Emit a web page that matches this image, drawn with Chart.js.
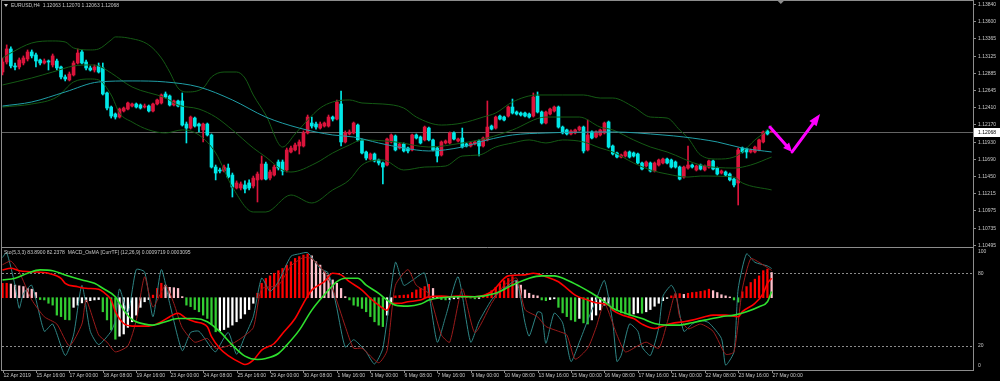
<!DOCTYPE html>
<html>
<head>
<meta charset="utf-8">
<title>EURUSD,H4</title>
<script src="https://cdn.jsdelivr.net/npm/chart.js@4.4.1/dist/chart.umd.min.js"></script>
<style>
  html, body { margin: 0; padding: 0; background: #000; overflow: hidden; }
  canvas { display: block; }
</style>
</head>
<body>
<canvas id="mt4" width="1000" height="381"></canvas>
<script>
// Candles, EURUSD H4, bar 0 = 12 Apr 2019 08:00 ... bar 184 = 27 May 2019 00:00

const opens = [
  1.12896,1.13035,1.13216,1.12980,1.12966,1.13021,1.13077,1.13174,1.13133,1.13063,
  1.13021,1.13049,1.12994,1.13049,1.12966,1.12827,1.12786,1.12855,1.13021,1.13174,
  1.13035,1.12952,1.12924,1.12980,1.12952,1.12605,1.12410,1.12313,1.12271,1.12355,
  1.12382,1.12424,1.12452,1.12438,1.12410,1.12424,1.12355,1.12452,1.12466,1.12591,
  1.12563,1.12438,1.12494,1.12494,1.12174,1.12118,1.12257,1.12174,1.12092,1.12174,
  1.12022,1.11577,1.11536,1.11522,1.11563,1.11466,1.11286,1.11286,1.11328,1.11356,
  1.11314,1.11398,1.11410,1.11619,1.11424,1.11466,1.11647,1.11647,1.11536,1.11786,
  1.11814,1.11869,1.11869,1.12050,1.12188,1.12174,1.12118,1.12146,1.12146,1.12271,
  1.12243,1.12452,1.11925,1.12036,1.12050,1.12160,1.11953,1.11786,1.11688,1.11758,
  1.11675,1.11633,1.11605,1.11925,1.12008,1.11841,1.11897,1.11841,1.11814,1.12022,
  1.11994,1.11953,1.12118,1.11953,1.11841,1.11744,1.11911,1.11911,1.12050,1.11939,
  1.11980,1.11897,1.11869,1.11897,1.11939,1.11869,1.11953,1.12146,1.12118,1.12285,
  1.12271,1.12285,1.12410,1.12341,1.12327,1.12327,1.12313,1.12285,1.12563,1.12341,
  1.12188,1.12313,1.12355,1.12410,1.12132,1.12092,1.12036,1.12050,1.12092,1.12132,
  1.11814,1.12064,1.11994,1.12022,1.12050,1.12202,1.11869,1.11772,1.11716,1.11730,
  1.11786,1.11772,1.11758,1.11633,1.11591,1.11633,1.11522,1.11605,1.11633,1.11688,
  1.11675,1.11647,1.11577,1.11438,1.11563,1.11605,1.11536,1.11605,1.11536,1.11577,
  1.11661,1.11563,1.11494,1.11508,1.11480,1.11410,1.11356,1.11841,1.11827,1.11786,
  1.11786,1.11814,1.11925,1.12078,1.12063
];
const highs = [
  1.13091,1.13272,1.13244,1.13021,1.13091,1.13119,1.13202,1.13202,1.13160,1.13077,
  1.13077,1.13063,1.13146,1.13077,1.12980,1.12855,1.12896,1.13049,1.13216,1.13202,
  1.13063,1.12980,1.12994,1.13021,1.13021,1.12619,1.12424,1.12327,1.12396,1.12410,
  1.12480,1.12466,1.12466,1.12452,1.12452,1.12438,1.12466,1.12521,1.12591,1.12619,
  1.12577,1.12508,1.12508,1.12605,1.12202,1.12285,1.12271,1.12188,1.12188,1.12188,
  1.12036,1.11605,1.11563,1.11605,1.11619,1.11494,1.11384,1.11370,1.11384,1.11398,
  1.11452,1.11508,1.11730,1.11647,1.11536,1.11605,1.11675,1.11675,1.11841,1.11869,
  1.11911,1.11953,1.12078,1.12299,1.12271,1.12202,1.12202,1.12202,1.12299,1.12285,
  1.12508,1.12633,1.12078,1.12092,1.12202,1.12174,1.11966,1.11800,1.11772,1.11772,
  1.11688,1.11647,1.11980,1.12036,1.12022,1.11911,1.11911,1.11855,1.12036,1.12036,
  1.12008,1.12146,1.12132,1.11966,1.11855,1.11939,1.11953,1.12064,1.12064,1.11980,
  1.12118,1.11911,1.11925,1.11939,1.11953,1.11994,1.12494,1.12160,1.12285,1.12299,
  1.12285,1.12424,1.12521,1.12355,1.12341,1.12341,1.12327,1.12605,1.12619,1.12355,
  1.12355,1.12396,1.12424,1.12424,1.12146,1.12104,1.12092,1.12104,1.12146,1.12146,
  1.12230,1.12078,1.12078,1.12104,1.12202,1.12216,1.11883,1.11786,1.11758,1.11800,
  1.11800,1.11786,1.11772,1.11647,1.11661,1.11647,1.11647,1.11688,1.11702,1.11702,
  1.11688,1.11661,1.11591,1.11591,1.11869,1.11619,1.11605,1.11619,1.11605,1.11675,
  1.11675,1.11577,1.11536,1.11522,1.11494,1.11424,1.11841,1.11855,1.11841,1.11827,
  1.11869,1.11966,1.12078,1.12092,1.12070
];
const lows = [
  1.12855,1.13007,1.12952,1.12924,1.12938,1.12994,1.13049,1.13091,1.12966,1.12994,
  1.13007,1.12924,1.12966,1.12924,1.12799,1.12772,1.12772,1.12841,1.13007,1.13007,
  1.12924,1.12910,1.12896,1.12882,1.12577,1.12369,1.12257,1.12243,1.12257,1.12341,
  1.12369,1.12410,1.12396,1.12382,1.12396,1.12341,1.12341,1.12438,1.12452,1.12535,
  1.12424,1.12424,1.12410,1.12146,1.11911,1.12104,1.12132,1.12064,1.11925,1.12008,
  1.11563,1.11398,1.11494,1.11508,1.11424,1.11161,1.11272,1.11259,1.11217,1.11259,
  1.11286,1.11092,1.11398,1.11398,1.11398,1.11452,1.11536,1.11466,1.11508,1.11772,
  1.11800,1.11758,1.11855,1.12036,1.12118,1.12104,1.12104,1.12132,1.12132,1.12216,
  1.12230,1.11869,1.11911,1.12022,1.12036,1.11939,1.11758,1.11675,1.11675,1.11647,
  1.11605,1.11342,1.11591,1.11911,1.11800,1.11827,1.11786,1.11772,1.11800,1.11966,
  1.11897,1.11939,1.11939,1.11800,1.11647,1.11730,1.11897,1.11897,1.11953,1.11925,
  1.11841,1.11855,1.11855,1.11883,1.11730,1.11855,1.11939,1.12092,1.12104,1.12230,
  1.12216,1.12271,1.12313,1.12299,1.12285,1.12271,1.12257,1.12271,1.12327,1.12174,
  1.12174,1.12299,1.12341,1.12118,1.12036,1.12022,1.12022,1.12036,1.12078,1.11772,
  1.11800,1.11966,1.11980,1.12008,1.12036,1.11841,1.11744,1.11702,1.11702,1.11716,
  1.11702,1.11716,1.11619,1.11536,1.11577,1.11508,1.11508,1.11591,1.11619,1.11619,
  1.11563,1.11563,1.11398,1.11424,1.11549,1.11563,1.11522,1.11536,1.11522,1.11563,
  1.11536,1.11466,1.11480,1.11452,1.11384,1.11300,1.11050,1.11772,1.11702,1.11772,
  1.11772,1.11800,1.11911,1.12022,1.12063
];
const closes = [
  1.13035,1.13216,1.12980,1.12966,1.13063,1.13091,1.13174,1.13119,1.13049,1.13021,
  1.13049,1.13035,1.13119,1.12952,1.12827,1.12799,1.12868,1.13021,1.13160,1.13021,
  1.12952,1.12924,1.12966,1.12896,1.12591,1.12396,1.12285,1.12271,1.12382,1.12396,
  1.12466,1.12452,1.12410,1.12396,1.12424,1.12355,1.12452,1.12508,1.12577,1.12549,
  1.12438,1.12494,1.12424,1.12160,1.12118,1.12271,1.12146,1.12146,1.12174,1.12022,
  1.11577,1.11494,1.11522,1.11577,1.11438,1.11300,1.11356,1.11342,1.11272,1.11286,
  1.11424,1.11480,1.11619,1.11410,1.11508,1.11577,1.11563,1.11522,1.11814,1.11841,
  1.11883,1.11925,1.12050,1.12271,1.12146,1.12132,1.12174,1.12188,1.12271,1.12243,
  1.12480,1.11925,1.12050,1.12064,1.12188,1.11953,1.11772,1.11702,1.11758,1.11661,
  1.11633,1.11577,1.11966,1.12022,1.11814,1.11897,1.11800,1.11800,1.12022,1.11980,
  1.11911,1.12132,1.11953,1.11814,1.11730,1.11925,1.11939,1.12050,1.11966,1.11966,
  1.11855,1.11869,1.11911,1.11925,1.11869,1.11980,1.12132,1.12104,1.12271,1.12243,
  1.12230,1.12410,1.12327,1.12313,1.12299,1.12285,1.12271,1.12549,1.12341,1.12188,
  1.12341,1.12382,1.12410,1.12132,1.12050,1.12036,1.12078,1.12092,1.12132,1.11800,
  1.12022,1.11980,1.12064,1.12092,1.12188,1.11855,1.11758,1.11716,1.11744,1.11786,
  1.11716,1.11730,1.11633,1.11549,1.11647,1.11522,1.11633,1.11675,1.11688,1.11633,
  1.11577,1.11577,1.11410,1.11577,1.11605,1.11577,1.11591,1.11549,1.11591,1.11661,
  1.11549,1.11480,1.11522,1.11466,1.11398,1.11328,1.11814,1.11786,1.11786,1.11814,
  1.11855,1.11953,1.12064,1.12036,1.12068
];

// Bollinger bands (20,2) and the slow MA at these bars
const upperBars = [0,2,7,12,15,17,21,23,26,27,30,35,38,40,42,44,48,50,53,56,58,60,63,67,70,73,76,79,83,86,91,96,99,105,110,115,118,122,128,134,139,143,146,151,155,159,162,164,167,171,175,177,180,183,184];
const bbUpper = [1.13091,1.13160,1.13299,1.13327,1.13313,1.13230,1.13202,1.13216,1.13341,1.13383,1.13369,1.13272,1.13091,1.12896,1.12674,1.12619,1.12674,1.12827,1.12896,1.12896,1.12813,1.12577,1.12299,1.11855,1.12036,1.12230,1.12396,1.12480,1.12508,1.12466,1.12452,1.12396,1.12271,1.12160,1.12188,1.12271,1.12327,1.12480,1.12577,1.12577,1.12577,1.12535,1.12535,1.12410,1.12271,1.12257,1.12092,1.11980,1.11744,1.11688,1.11716,1.11786,1.11953,1.12092,1.12160];
const middleBars = [0,7,12,17,21,23,26,31,39,42,47,51,55,60,63,67,69,75,79,83,86,94,102,110,116,122,130,138,143,146,151,155,159,167,175,179,184];
const bbMiddle = [1.12716,1.12813,1.12896,1.12980,1.12994,1.12980,1.12882,1.12688,1.12535,1.12438,1.12382,1.12271,1.12092,1.11841,1.11716,1.11536,1.11508,1.11633,1.11772,1.11883,1.11953,1.11925,1.11855,1.11911,1.11980,1.12092,1.12271,1.12271,1.12132,1.12092,1.11953,1.11855,1.11786,1.11605,1.11563,1.11605,1.11716];
const lowerBars = [0,7,13,17,21,23,26,28,31,35,39,43,47,51,55,60,63,69,74,79,83,86,91,96,101,106,110,114,118,122,126,130,134,139,143,146,151,155,159,164,167,175,177,184];
const bbLower = [1.12410,1.12452,1.12549,1.12758,1.12799,1.12786,1.12577,1.12327,1.12202,1.12092,1.12050,1.12092,1.12022,1.11772,1.11300,1.10953,1.10953,1.11189,1.11078,1.11259,1.11398,1.11605,1.11675,1.11536,1.11577,1.11591,1.11730,1.11744,1.11855,1.11911,1.11953,1.11911,1.11953,1.11925,1.11841,1.11786,1.11633,1.11536,1.11480,1.11438,1.11452,1.11438,1.11356,1.11259];
const maBars = [0,7,15,23,31,39,47,55,63,71,79,84,90,96,102,110,116,122,130,146,158,163,171,177,184];
const maValues = [1.12424,1.12480,1.12619,1.12758,1.12772,1.12758,1.12688,1.12508,1.12271,1.12118,1.12022,1.11994,1.11911,1.11841,1.11800,1.11855,1.11953,1.12022,1.12050,1.12064,1.12022,1.11994,1.11925,1.11841,1.11786];

// Stochastic (5,3,3)
const stochBars = [0,1,3,4,5,7,10,12,15,17,19,21,23,26,27,28,30,32,34,36,38,40,43,45,47,50,51,54,56,58,60,62,64,66,69,71,73,76,78,80,82,84,86,87,89,91,94,96,98,101,104,106,109,112,114,117,119,121,123,125,126,128,129,130,132,134,136,138,140,142,144,146,147,148,150,152,153,155,157,158,160,161,163,165,167,169,172,173,175,176,178,180,183,184];
const stochMain = [93,97,70,51,63,70,32,38,12,29,70,32,21,32,41,67,47,83,81,44,83,55,16,31,32,18,15,31,13,28,44,76,65,73,94,96,97,84,80,51,19,25,19,15,5,18,89,70,74,80,23,44,77,23,40,58,65,70,74,39,28,48,47,22,47,39,7,23,41,58,74,39,7,12,38,32,19,12,35,61,70,64,32,38,41,39,26,4,15,67,96,89,86,83.89];
const signalBars = [0,2,4,7,10,13,16,19,20,23,25,27,30,32,34,36,39,41,43,46,49,51,54,57,60,62,66,69,72,74,77,79,82,84,86,90,92,94,97,99,102,105,107,110,113,117,120,123,125,128,130,133,135,137,140,142,144,147,149,152,154,157,159,161,162,164,167,170,173,175,177,179,181,184];
const stochSignal = [87,90,81,58,44,38,20,38,58,29,23,15,20,41,77,52,70,55,35,23,26,18,20,26,35,67,70,86,93,92,81,67,36,18,18,6,16,70,83,70,63,29,23,67,31,55,70,76,50,44,36,32,29,9,18,35,55,29,15,20,23,18,39,64,44,34,38,32,13,15,67,92,89,82.24];

// MACD_OsMA (12,26,9), values in 1e-5
const macdBars = [0,2,4,7,11,14,15,18,20,23,24,26,27,29,31,33,35,38,40,42,44,46,49,50,52,54,57,58,60,62,65,67,70,72,74,77,79,81,83,86,88,90,92,93,95,97,100,102,105,107,109,113,117,121,125,127,130,133,135,137,140,142,145,146,149,151,153,156,158,160,163,165,168,170,173,176,177,180,182,183,184];
const macdLine = [139,147,135,130,122,97,72,55,47,42,30,-12,-70,-129,-142,-142,-142,-120,-95,-78,-104,-120,-145,-195,-254,-290,-326,-334,-312,-262,-229,-179,-104,-28,38,80,122,114,80,38,-3,-37,-62,-28,-28,-20,-12,5,8,5,8,5,30,109,114,122,105,80,47,13,-12,-25,-37,-62,-92,-104,-132,-154,-142,-129,-120,-112,-95,-87,-87,-95,-70,-28,22,72,97];
const sigBars = [0,3,6,9,12,15,19,22,24,27,29,31,34,36,39,42,46,49,52,55,58,61,63,66,68,71,74,78,80,82,85,87,90,92,94,97,100,102,105,109,113,118,122,126,129,132,135,138,141,144,146,149,153,156,159,162,165,168,172,175,178,181,183,184];
const sigLine = [89,97,122,139,135,114,89,72,47,5,-62,-109,-132,-137,-120,-104,-104,-120,-170,-237,-292,-309,-304,-279,-237,-162,-62,38,80,97,97,63,22,-12,-37,-42,-32,-12,0,5,5,22,63,97,109,109,89,58,22,-20,-53,-78,-104,-129,-137,-137,-125,-112,-95,-87,-70,-45,-20,31];
const osma = [
  39,39,37,34,32,30,25,23,14,-5,
  -6,-15,-20,-47,-51,-59,-60,-26,-20,-14,
  -11,-8,-6,-5,-38,-60,-87,-112,-104,-98,
  -80,-65,-47,-26,-11,-5,7,25,39,34,
  28,27,25,3,-20,-24,-32,-38,-47,-56,
  -72,-92,-89,-86,-80,-74,-65,-56,-44,-32,
  -15,12,39,52,59,66,73,79,88,97,
  106,111,115,118,113,97,88,70,61,48,
  39,25,3,-6,-20,-23,-29,-38,-51,-65,
  -74,-78,-47,-15,5,6,7,8,14,21,
  25,30,36,25,3,-5,-6,-5,-3,-2,
  1,2,-1,-3,-2,5,10,19,28,37,
  46,52,57,46,34,21,12,7,5,-6,
  -8,-5,-3,-26,-41,-51,-60,-64,-56,-68,
  -71,-60,-47,-33,-20,-15,-26,-35,-41,-44,
  -47,-44,-41,-42,-38,-32,-23,-15,-8,-2,
  5,8,11,9,12,14,15,17,19,23,
  19,14,8,5,2,-6,-12,16,30,41,
  50,59,73,77,68
];

// axes and texts
const priceTicks = [1.13840,1.13600,1.13365,1.13125,1.12885,1.12645,1.12410,1.12170,1.11930,1.11690,1.11450,1.11215,1.10975,1.10735,1.10495];
const lastPrice = 1.12068;
const stochLevels = [80, 20];
const stochLabels = [100, 80, 20, 0];
const labelBars = [0,8,16,24,32,40,48,56,64,72,80,88,96,104,112,120,128,136,144,152,160,168,176,184];
const timeLabels = ['12 Apr 2019','15 Apr 16:00','17 Apr 00:00','18 Apr 08:00','19 Apr 16:00','23 Apr 00:00','24 Apr 08:00','25 Apr 16:00','29 Apr 00:00','30 Apr 08:00','1 May 16:00','3 May 00:00','6 May 08:00','7 May 16:00','9 May 00:00','10 May 08:00','13 May 16:00','15 May 00:00','16 May 08:00','17 May 16:00','21 May 00:00','22 May 08:00','23 May 16:00','27 May 00:00'];
const mainTitle = 'EURUSD,H4  1.12063 1.12070 1.12063 1.12068';
const indTitle = 'Sto(5,3,3) 83.8900 82.2378  MACD_OsMA [CurrTF] (12,26,9) 0.0009719 0.0003095';

// hand drawn magenta arrows (bar, price)
const arrowBars = [183.6, 188.9, 195.6];
const arrowPrices = [1.12132, 1.11786, 1.12313];
const shiftBar = 186.2;

const UP = '#dc143c', DOWN = '#00e8e8';
const FG = '#c8c8c8', FRAME = '#8c8c8c';
const FONT = '5px "Liberation Sans", Arial, sans-serif';

const idx = opens.map((_, i) => i);
const candleColors = idx.map(i => closes[i] >= opens[i] ? UP : DOWN);
const histColors = osma.map((v, i) => {
  const prev = i ? osma[i - 1] : v;
  if (v >= 0) return v >= prev ? '#ff0000' : '#ffc0cb';
  return v <= prev ? '#32cd32' : '#ffffff';
});

function pts(xs, ys) { return xs.map((x, i) => ({ x: x, y: ys[i] })); }

function hline(ctx, x1, x2, y) { ctx.beginPath(); ctx.moveTo(x1, y); ctx.lineTo(x2, y); ctx.stroke(); }
function vline(ctx, x, y1, y2) { ctx.beginPath(); ctx.moveTo(x, y1); ctx.lineTo(x, y2); ctx.stroke(); }

function arrowTo(ctx, x1, y1, x2, y2, len, half) {
  const a = Math.atan2(y2 - y1, x2 - x1);
  const bx = x2 - len * Math.cos(a), by = y2 - len * Math.sin(a);
  ctx.beginPath(); ctx.moveTo(x1, y1); ctx.lineTo(bx, by); ctx.stroke();
  ctx.beginPath();
  ctx.moveTo(x2, y2);
  ctx.lineTo(bx + half * Math.sin(a), by - half * Math.cos(a));
  ctx.lineTo(bx - half * Math.sin(a), by + half * Math.cos(a));
  ctx.closePath();
  ctx.fill();
}

const mt4Look = {
  id: 'mt4Look',
  beforeDraw(chart) {
    const ctx = chart.ctx;
    ctx.save();
    ctx.fillStyle = '#000';
    ctx.fillRect(0, 0, chart.width, chart.height);
    ctx.restore();
  },
  beforeDatasetsDraw(chart) {
    const { ctx, chartArea: a, scales } = chart;
    ctx.save();
    ctx.lineWidth = 1;
    ctx.strokeStyle = '#646464';
    hline(ctx, a.left, a.right, Math.round(scales.yp.getPixelForValue(lastPrice)) + 0.5);
    ctx.setLineDash([2, 2]);
    ctx.strokeStyle = '#8a8a8a';
    stochLevels.forEach(v => hline(ctx, a.left, a.right, Math.round(scales.ys.getPixelForValue(v)) + 0.5));
    ctx.restore();
  },
  afterDraw(chart) {
    const { ctx, chartArea: a, scales } = chart;
    ctx.save();

    // frame and pane split
    ctx.strokeStyle = FRAME;
    ctx.lineWidth = 1;
    ctx.strokeRect(1.5, 0.5, a.right - 1, a.bottom);
    hline(ctx, 1.5, a.right + 0.5, 247.5);

    ctx.font = FONT;
    ctx.textAlign = 'left';
    ctx.textBaseline = 'middle';
    ctx.fillStyle = FG;

    // price axis
    priceTicks.forEach(p => {
      const y = Math.round(scales.yp.getPixelForValue(p)) + 0.5;
      hline(ctx, a.right, a.right + 3, y);
      ctx.fillText(p.toFixed(5), a.right + 5, y);
    });
    const by = Math.round(scales.yp.getPixelForValue(lastPrice));
    ctx.fillStyle = '#ffffff';
    ctx.fillRect(a.right + 1, by - 4, 27, 9);
    ctx.fillStyle = '#000';
    ctx.fillText(lastPrice.toFixed(5), a.right + 5, by + 0.5);

    // stochastic axis
    ctx.fillStyle = FG;
    stochLabels.forEach(v => {
      let y = scales.ys.getPixelForValue(v);
      if (v === 100) y += 3;
      if (v === 0) y -= 4;
      ctx.fillText(String(v), a.right + 5, y);
    });

    // time axis
    labelBars.forEach((b, k) => {
      const x = Math.round(scales.x.getPixelForValue(b)) + 0.5;
      vline(ctx, x, a.bottom, a.bottom + 3);
      ctx.fillText(timeLabels[k], x, a.bottom + 6);
    });

    // titles
    ctx.beginPath(); ctx.moveTo(4, 4); ctx.lineTo(8, 4); ctx.lineTo(6, 7); ctx.closePath(); ctx.fill();
    ctx.fillText(mainTitle, 11, 6);
    ctx.fillText(indTitle, 4, 253);

    // chart shift marker
    const sx = scales.x.getPixelForValue(shiftBar);
    ctx.fillStyle = FRAME;
    ctx.beginPath(); ctx.moveTo(sx - 3, 1); ctx.lineTo(sx + 3, 1); ctx.lineTo(sx, 4); ctx.closePath(); ctx.fill();

    // arrows
    const px = arrowBars.map(b => scales.x.getPixelForValue(b));
    const py = arrowPrices.map(p => scales.yp.getPixelForValue(p));
    ctx.strokeStyle = '#ff00ff';
    ctx.fillStyle = '#ff00ff';
    ctx.lineWidth = 3;
    ctx.lineCap = 'round';
    arrowTo(ctx, px[0], py[0], px[1], py[1], 9, 4);
    arrowTo(ctx, px[1], py[1], px[2], py[2], 12, 4.5);

    ctx.restore();
  }
};

function bandLine(data, color, order) {
  return { type: 'line', data: data, yAxisID: 'yp', borderColor: color, borderWidth: 1,
           pointRadius: 0, fill: false, cubicInterpolationMode: 'monotone', order: order };
}

new Chart(document.getElementById('mt4'), {
  type: 'bar',
  data: {
    datasets: [
      { label: 'wick', data: idx.map(i => ({ x: i, y: [lows[i], highs[i]] })), yAxisID: 'yp',
        backgroundColor: candleColors, barThickness: 1, grouped: false, order: 5 },
      { label: 'body', data: idx.map(i => ({ x: i, y: [opens[i], closes[i]] })), yAxisID: 'yp',
        backgroundColor: candleColors, barThickness: 3, minBarLength: 1, grouped: false, order: 4 },
      bandLine(pts(upperBars, bbUpper), '#145a14', 3),
      bandLine(pts(middleBars, bbMiddle), '#145a14', 3),
      bandLine(pts(lowerBars, bbLower), '#145a14', 3),
      bandLine(pts(maBars, maValues), '#1f9ea6', 2),

      { label: 'OsMA', data: idx.map(i => ({ x: i, y: osma[i] })), yAxisID: 'yh',
        backgroundColor: histColors, barThickness: 1.6, grouped: false, order: 10 },
      { type: 'line', label: 'Stoch', data: pts(stochBars, stochMain), yAxisID: 'ys',
        borderColor: '#2e8585', borderWidth: 1, pointRadius: 0, tension: 0.2, order: 9 },
      { type: 'line', label: 'Signal', data: pts(signalBars, stochSignal), yAxisID: 'ys',
        borderColor: '#9b1b1b', borderWidth: 1, pointRadius: 0, tension: 0.2, order: 8 },
      { type: 'line', label: 'MACD', data: pts(macdBars, macdLine), yAxisID: 'ym',
        borderColor: '#ff0000', borderWidth: 1.6, pointRadius: 0, cubicInterpolationMode: 'monotone', order: 7 },
      { type: 'line', label: 'MACD signal', data: pts(sigBars, sigLine), yAxisID: 'ym',
        borderColor: '#2ee02e', borderWidth: 1.6, pointRadius: 0, cubicInterpolationMode: 'monotone', order: 6 }
    ]
  },
  options: {
    responsive: false,
    animation: false,
    events: [],
    layout: { padding: { left: 2, right: 27, top: 1, bottom: 11 } },
    plugins: { legend: { display: false }, tooltip: { enabled: false } },
    scales: {
      x: { type: 'linear', display: false, offset: false, min: -0.12, max: 232.18 },
      // each pane gets its own value axis stretched over the whole plot height
      yp: { type: 'linear', display: false, min: 1.0875992, max: 1.1388164 },
      ys: { type: 'linear', display: false, min: 0, max: 304.96 },
      ym: { type: 'linear', display: false, min: -361.5, max: 1483.5 },
      yh: { type: 'linear', display: false, min: -195.2, max: 801.1 }
    }
  },
  plugins: [mt4Look]
});
</script>
</body>
</html>
